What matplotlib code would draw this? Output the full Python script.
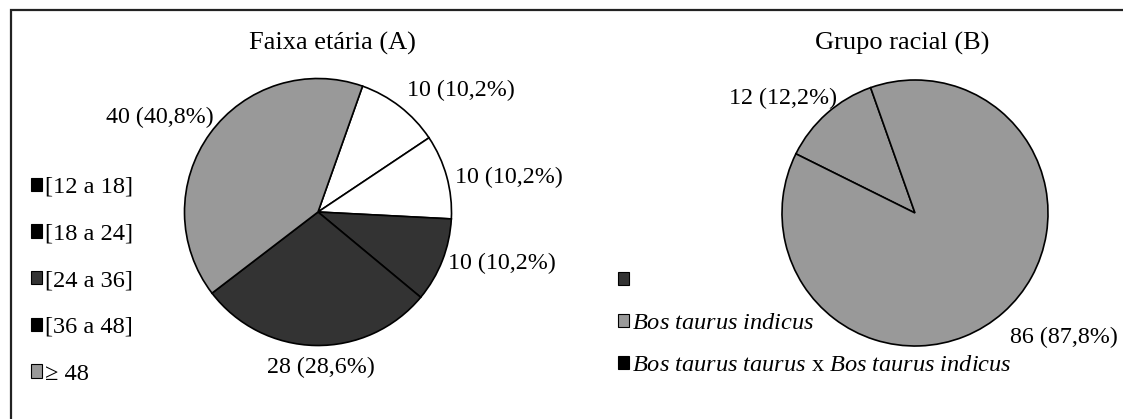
import matplotlib.pyplot as plt
from matplotlib.patches import Patch, Rectangle

plt.rcParams['font.family'] = ['Liberation Serif', 'DejaVu Serif']
plt.rcParams['mathtext.fontset'] = 'custom'
plt.rcParams['mathtext.rm'] = 'Liberation Serif'
plt.rcParams['mathtext.it'] = 'Liberation Serif:italic'

# --- données ---
titre_a = "Faixa etária (A)"
valeurs_a = [10, 10, 10, 28, 40]          # ordre des secteurs (sens horaire)
couleurs_a = ["white", "white", "#333333", "#333333", "#999999"]
legende_a = ["[12 a 18]", "[18 a 24]", "[24 a 36]", "[36 a 48]", "≥ 48"]
legende_a_couleurs = ["black", "black", "#333333", "black", "#999999"]

titre_b = "Grupo racial (B)"
valeurs_b = [12, 86]
couleurs_b = ["#999999", "#999999"]
legende_b = ["", r"$\it{Bos\ taurus\ indicus}$",
             r"$\it{Bos\ taurus\ taurus}$ x $\it{Bos\ taurus\ indicus}$"]
legende_b_couleurs = ["#333333", "#999999", "black"]

# positions des étiquettes (pixels, origine en haut à gauche)
pos_etiq_a = [(461, 90), (509, 177), (502, 263), (321, 367), (160, 117)]
pos_etiq_b = [(783, 98), (1064, 337)]

W, H = 1123, 419
fig = plt.figure(figsize=(W / 100, H / 100), dpi=100)
ax = fig.add_axes([0, 0, 1, 1])

def etiquette(v, total):
    return f"{v} ({v / total * 100:.1f}%)".replace(".", ",")

fs_titre = 19
fs_etiq = 17.3
fs_leg = 17.6
lw = 1.2

ax.pie(valeurs_a, colors=couleurs_a, startangle=70.5, counterclock=False,
       center=(318, H - 212), radius=133.5, frame=True,
       wedgeprops=dict(edgecolor="black", linewidth=lw))
ax.pie(valeurs_b, colors=couleurs_b, startangle=109.5, counterclock=True,
       center=(915, H - 213), radius=133, frame=True,
       wedgeprops=dict(edgecolor="black", linewidth=lw))

tot_a = sum(valeurs_a)
for v, (x, y) in zip(valeurs_a, pos_etiq_a):
    ax.text(x, H - y, etiquette(v, tot_a), fontsize=fs_etiq, ha="center", va="center")
tot_b = sum(valeurs_b)
for v, (x, y) in zip(valeurs_b, pos_etiq_b):
    ax.text(x, H - y, etiquette(v, tot_b), fontsize=fs_etiq, ha="center", va="center")

ax.text(332, H - 43, titre_a, fontsize=fs_titre, ha="center", va="center")
ax.text(902, H - 43, titre_b, fontsize=fs_titre, ha="center", va="center")

# légendes
poignees_a = [Patch(facecolor=c, edgecolor="black", linewidth=0.8) for c in legende_a_couleurs]
leg_a = ax.legend(poignees_a, legende_a, loc="upper left", bbox_to_anchor=(31, H - 177),
                  bbox_transform=ax.transData, frameon=False, fontsize=fs_leg,
                  handlelength=0.45, handleheight=0.45, handletextpad=0.12,
                  labelspacing=1.05, borderpad=0, borderaxespad=0)
ax.add_artist(leg_a)
poignees_b = [Patch(facecolor=c, edgecolor="black", linewidth=0.8) for c in legende_b_couleurs]
ax.legend(poignees_b, legende_b, loc="upper left", bbox_to_anchor=(618, H - 271),
          bbox_transform=ax.transData, frameon=False, fontsize=fs_leg,
          handlelength=0.45, handleheight=0.45, handletextpad=0.12,
          labelspacing=0.86, borderpad=0, borderaxespad=0)

# cadre
ax.add_patch(Rectangle((10.5, -30), 1200, H - 10.5 + 30, fill=False,
                       edgecolor="#222222", linewidth=1.6))

ax.set_xlim(0, W)
ax.set_ylim(0, H)
ax.axis("off")

fig.savefig("out.png", dpi=100)
